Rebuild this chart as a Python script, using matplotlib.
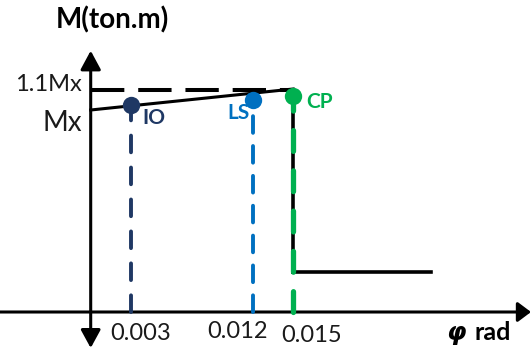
import matplotlib
matplotlib.use("Agg")
import matplotlib.pyplot as plt

plt.rcParams['font.family'] = ['Lato', 'DejaVu Sans']
plt.rcParams['lines.scale_dashes'] = False

# ---- data ----
perf_levels = ['IO', 'LS', 'CP']
perf_rotation = [0.003, 0.012, 0.015]          # rad
perf_moment = [1.026, 1.051, 1.069]            # M / Mx (dot positions)
perf_colors = ['#1f3864', '#0070c0', '#00b050']

backbone_rot = [0.0, 0.015]
backbone_m = [1.0, 1.104]
cap_rot = [0.0, 0.015]
cap_m = [1.1, 1.1]
drop_rot = [0.015, 0.015]
drop_m = [1.069, 0.2]
resid_rot = [0.015, 0.0252]
resid_m = [0.2, 0.2]

tick_labels = ['0.003', '0.012', '0.015']
ylabels = ['1.1Mx', 'Mx']

# ---- layout (pixel based mapping) ----
W, H = 531, 350
ox, oy = 90.7, 312.0      # origin in pixels
sx, sy = 13500.0, 202.0   # px per rad, px per Mx

def px(x, y):
    return ((x - ox) / sx, (oy - y) / sy)

fig = plt.figure(figsize=(W / 100, H / 100), dpi=100)
ax = fig.add_axes([0, 0, 1, 1])
ax.set_xlim(px(0, 0)[0], px(W, 0)[0])
ax.set_ylim(px(0, H)[1], px(0, 0)[1])
ax.axis('off')

# axes with arrows
def arrow(p0, p1, hl, hw, lw=2.2):
    ax.annotate('', xy=px(*p1), xytext=px(*p0),
                arrowprops=dict(arrowstyle=f'-|>,head_length={hl},head_width={hw}',
                                lw=lw, color='black', shrinkA=0, shrinkB=0,
                                mutation_scale=10))

arrow((0, oy), (W, oy), 0.8, 0.6)
arrow((ox, oy), (ox, 50.7), 1.15, 0.62)
arrow((ox, oy), (ox, 348), 1.1, 0.6)

# backbone curve
ax.plot(cap_rot, cap_m, color='black', lw=2.9, dashes=(24, 10), solid_capstyle='butt', zorder=3)
ax.plot(backbone_rot, backbone_m, color='black', lw=2.2, zorder=4)
ax.plot(drop_rot, drop_m, color='black', lw=2.6, zorder=4)
ax.plot(resid_rot, resid_m, color='black', lw=2.6, zorder=4)

# performance level verticals and points
dash_patterns = [(12, 11), (12, 9.5), (15, 14)]
vlws = [2.8, 2.8, 3.8]
for r, m, c, d, lw in zip(perf_rotation, perf_moment, perf_colors, dash_patterns, vlws):
    ax.plot([r, r], [0, m], color=c, lw=lw, dashes=d, dash_capstyle='round', zorder=5)
    ax.plot([r], [m], 'o', color=c, ms=12.5, mec='none', zorder=6)

# point labels
label_offsets = [(11, -13), (-25, -13), (13, -6)]
for r, m, lab, c, off in zip(perf_rotation, perf_moment, perf_levels, perf_colors, label_offsets):
    ax.annotate(lab, xy=(r, m), xytext=off, textcoords='offset pixels',
                ha='left', va='center', fontsize=15, fontweight='bold', color=c)

# x tick labels
tick_offsets = [(9, -21), (-15, -20), (18, -24)]
for r, t, off in zip(perf_rotation, tick_labels, tick_offsets):
    ax.annotate(t, xy=(r, 0), xytext=off, textcoords='offset pixels',
                ha='center', va='center', fontsize=17, color='#1a1a1a')

# y labels
ax.text(*px(82, 85), ylabels[0], ha='right', va='center', fontsize=17, color='#1a1a1a')
ax.text(*px(82, 123), ylabels[1], ha='right', va='center', fontsize=20, color='#1a1a1a')

# axis titles
ax.text(*px(112, 20), 'M(ton.m)', ha='center', va='center', fontsize=20, fontweight='bold')
ax.text(*px(446, 333), 'φ', ha='left', va='center', fontsize=18, fontweight='bold',
        fontstyle='italic', family=['DejaVu Sans'])
ax.text(*px(475, 333), 'rad', ha='left', va='center', fontsize=18, fontweight='bold')

fig.savefig('out.png', dpi=100)
